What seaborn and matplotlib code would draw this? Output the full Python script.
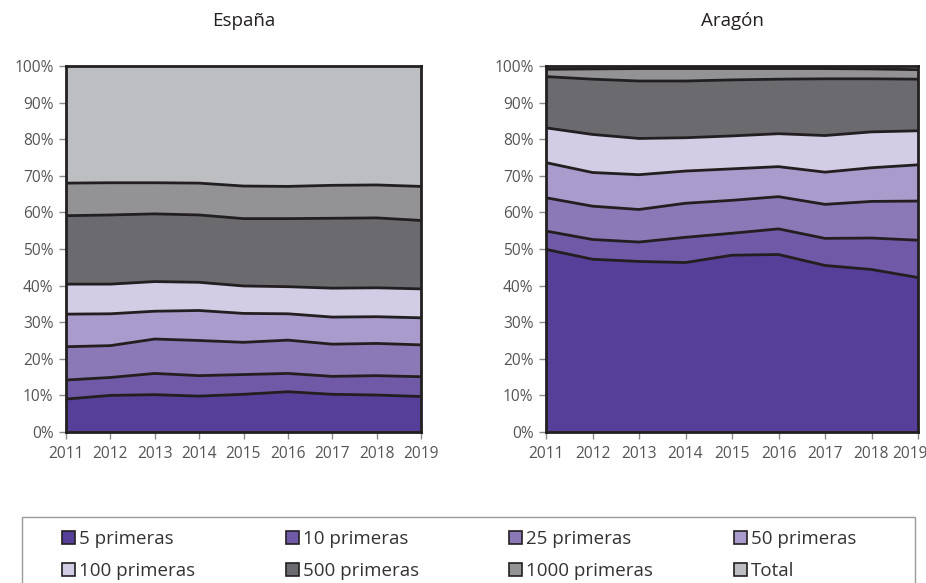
import numpy as np
import matplotlib.pyplot as plt
import seaborn as sns
from matplotlib.patches import Patch, Rectangle
from matplotlib.ticker import PercentFormatter
from matplotlib.transforms import ScaledTranslation

# años
years = [2011, 2012, 2013, 2014, 2015, 2016, 2017, 2018, 2019]

series = ["5 primeras", "10 primeras", "25 primeras", "50 primeras",
          "100 primeras", "500 primeras", "1000 primeras", "Total"]

# porcentaje acumulado (límite superior de cada banda)
espana_5 = [9.0, 10.0, 10.2, 9.8, 10.3, 11.0, 10.3, 10.1, 9.7]
espana_10 = [14.2, 14.9, 16.0, 15.4, 15.7, 16.0, 15.2, 15.4, 15.1]
espana_25 = [23.3, 23.6, 25.4, 25.0, 24.5, 25.1, 24.0, 24.2, 23.8]
espana_50 = [32.2, 32.3, 33.0, 33.2, 32.4, 32.3, 31.4, 31.5, 31.2]
espana_100 = [40.4, 40.4, 41.1, 40.9, 39.9, 39.7, 39.3, 39.4, 39.1]
espana_500 = [59.1, 59.3, 59.6, 59.3, 58.3, 58.3, 58.4, 58.5, 57.8]
espana_1000 = [68.0, 68.1, 68.1, 68.0, 67.2, 67.1, 67.4, 67.5, 67.1]
espana_total = [100, 100, 100, 100, 100, 100, 100, 100, 100]

aragon_5 = [49.9, 47.2, 46.6, 46.3, 48.3, 48.5, 45.5, 44.4, 42.2]
aragon_10 = [54.9, 52.6, 51.9, 53.2, 54.3, 55.5, 52.9, 53.0, 52.4]
aragon_25 = [64.0, 61.7, 60.8, 62.5, 63.3, 64.3, 62.2, 63.0, 63.1]
aragon_50 = [73.6, 70.9, 70.3, 71.3, 71.9, 72.5, 71.0, 72.2, 73.0]
aragon_100 = [83.1, 81.3, 80.2, 80.4, 80.9, 81.5, 81.0, 82.0, 82.3]
aragon_500 = [97.1, 96.4, 95.9, 95.9, 96.2, 96.4, 96.5, 96.5, 96.4]
aragon_1000 = [99.1, 99.2, 99.3, 99.3, 99.3, 99.3, 99.3, 99.2, 99.0]
aragon_total = [100, 100, 100, 100, 100, 100, 100, 100, 100]

colors = ["#553f99", "#7059a6", "#8b78b7", "#a99bcb",
          "#d2cce4", "#6b6b6f", "#939396", "#bdbec2"]

sns.set_style("white")
plt.rcParams["font.family"] = ["Open Sans", "DejaVu Sans"]

W, H = 926, 583
fig = plt.figure(figsize=(W / 100, H / 100), dpi=100)
ax1 = fig.add_axes([66 / W, 1 - 432 / H, 355 / W, 366 / H])
ax2 = fig.add_axes([546 / W, 1 - 432 / H, 372 / W, 366 / H])

datasets = [
    ("España", [espana_5, espana_10, espana_25, espana_50, espana_100,
                espana_500, espana_1000, espana_total]),
    ("Aragón", [aragon_5, aragon_10, aragon_25, aragon_50, aragon_100,
                aragon_500, aragon_1000, aragon_total]),
]

for ax, (title, cum) in zip([ax1, ax2], datasets):
    cum = np.array(cum, dtype=float)
    bands = np.diff(np.vstack([np.zeros(len(years)), cum]), axis=0)
    ax.stackplot(years, bands, colors=colors, linewidth=0)
    for row in cum[:-1]:
        sns.lineplot(x=years, y=row, ax=ax, color="#231f20", lw=2.0)
    ax.set_xlim(2011, 2019)
    ax.set_ylim(0, 100)
    ax.set_xticks(years)
    ax.set_yticks(range(0, 101, 10))
    ax.yaxis.set_major_formatter(PercentFormatter(decimals=0))
    ax.tick_params(axis="both", colors="#8a8a8a", labelcolor="#555555",
                   labelsize=11.2, length=5, width=1, direction="out",
                   left=True, bottom=True)
    ax.tick_params(axis="x", pad=5)
    ax.tick_params(axis="y", pad=4)
    for sp in ax.spines.values():
        sp.set_color("#231f20")
        sp.set_linewidth(2.0)
    ax.set_title(title, fontsize=13.5, color="#231f20", pad=29)

# la última etiqueta del gráfico derecho queda dentro de la figura
last = ax2.get_xticklabels()[-1]
last.set_transform(last.get_transform() + ScaledTranslation(-8 / 100, 0, fig.dpi_scale_trans))

# leyenda: marco + cuatro columnas
fig.add_artist(Rectangle((22 / W, -0.05), 893 / W, 0.05 + (H - 517) / H,
                         transform=fig.transFigure, facecolor="none",
                         edgecolor="#9a9a9a", linewidth=1.0))
col_x = [62, 286, 509, 734]
for i, x in enumerate(col_x):
    idx = [i, i + 4]
    handles = [Patch(facecolor=colors[j], edgecolor="#231f20", linewidth=1.2) for j in idx]
    leg = fig.legend(handles, [series[j] for j in idx], loc="upper left",
                     bbox_to_anchor=(x / W, 1 - 530 / H), frameon=False,
                     fontsize=13.5, handlelength=0.7, handleheight=0.7,
                     handletextpad=0.2, borderpad=0, borderaxespad=0,
                     labelspacing=0.75)
    for t in leg.get_texts():
        t.set_color("#333333")

fig.savefig("out.png", dpi=100)
